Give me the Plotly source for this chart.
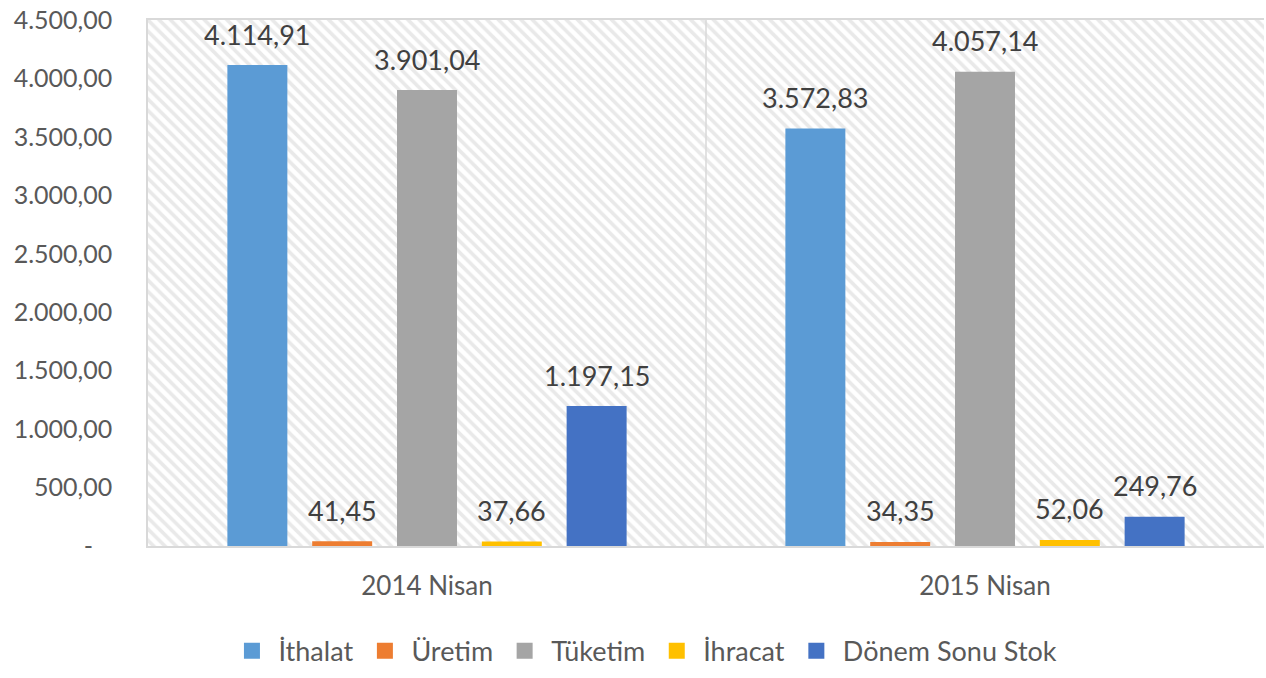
import plotly.graph_objects as go

categories = ["2014 Nisan", "2015 Nisan"]
series_names = ["İthalat", "Üretim", "Tüketim", "İhracat", "Dönem Sonu Stok"]
ithalat = [4114.91, 3572.83]
uretim = [41.45, 34.35]
tuketim = [3901.04, 4057.14]
ihracat = [37.66, 52.06]
donem_sonu_stok = [1197.15, 249.76]
series_values = [ithalat, uretim, tuketim, ihracat, donem_sonu_stok]
colors = ["#5B9BD5", "#ED7D31", "#A5A5A5", "#FFC000", "#4472C4"]

y_ticks = [0, 500, 1000, 1500, 2000, 2500, 3000, 3500, 4000, 4500]
y_tick_labels = ["-\u00a0\u00a0\u00a0", "500,00", "1.000,00", "1.500,00", "2.000,00", "2.500,00",
                 "3.000,00", "3.500,00", "4.000,00", "4.500,00"]


def tr_fmt(v):
    s = f"{v:,.2f}"
    return s.replace(",", "X").replace(".", ",").replace("X", ".")


FONT = "Lato, 'Open Sans', sans-serif"
x_pos = list(range(len(categories)))

fig = go.Figure()

# hatched plot background
fig.add_trace(go.Bar(
    x=[0.5], y=[4500], base=0, width=2,
    marker=dict(color="white", line=dict(width=0),
                pattern=dict(shape="\\", fgcolor="#D3D3D3", bgcolor="white",
                             size=8, solidity=0.45)),
    showlegend=False, hoverinfo="skip",
))

step = 0.152
bw = 0.1075
for i, (name, vals, col) in enumerate(zip(series_names, series_values, colors)):
    xs = [p + (i - 2) * step for p in x_pos]
    fig.add_trace(go.Bar(
        x=xs, y=vals, name=name, width=bw, legendgroup=name, showlegend=False,
        marker=dict(color=col, line=dict(width=0)),
        hoverinfo="name+y",
    ))
    for xv, v in zip(xs, vals):
        fig.add_annotation(x=xv, y=v, xref="x", yref="y", text=tr_fmt(v),
                           showarrow=False, yanchor="middle", yshift=31,
                           font=dict(size=27, color="#404040", family=FONT))

# legend entries (square swatches)
for name, col in zip(series_names, colors):
    fig.add_trace(go.Scatter(
        x=[None], y=[None], mode="markers", name=name, legendgroup=name,
        marker=dict(symbol="square", size=16, color=col, line=dict(width=0)),
        showlegend=True, hoverinfo="skip",
    ))

fig.add_shape(type="line", x0=0.5, x1=0.5, y0=0, y1=4500, xref="x", yref="y",
              line=dict(color="#D9D9D9", width=1.5))

fig.update_layout(
    barmode="overlay",
    width=1266, height=678,
    margin=dict(l=148, r=2, t=20, b=120),
    paper_bgcolor="white", plot_bgcolor="white",
    font=dict(family=FONT, color="#595959", size=26),
    showlegend=True,
    legend=dict(orientation="h", x=0.4444, xanchor="center", y=-0.2, yanchor="middle",
                font=dict(size=27, color="#595959", family=FONT),
                itemsizing="trace", itemwidth=43, traceorder="normal"),
)
fig.update_xaxes(
    range=[-0.5, 1.5], tickvals=x_pos, ticktext=categories,
    showgrid=False, zeroline=False, showline=True, linecolor="#D9D9D9", linewidth=1.5,
    mirror=True, ticks="", tickfont=dict(size=26, color="#595959"),
    ticklabelstandoff=16,
)
fig.update_yaxes(
    range=[0, 4500], tickvals=y_ticks, ticktext=y_tick_labels,
    showgrid=True, gridcolor="#D9D9D9", gridwidth=1.5, zeroline=False,
    showline=True, linecolor="#D9D9D9", linewidth=1.5, ticks="",
    tickfont=dict(size=25, color="#595959"), automargin=False,
    ticklabelstandoff=29, ticklabeloverflow="allow",
)

fig.write_html("out.html", config={"displayModeBar": False},
               post_script="document.body.style.margin='0px';document.body.style.overflow='hidden';")
